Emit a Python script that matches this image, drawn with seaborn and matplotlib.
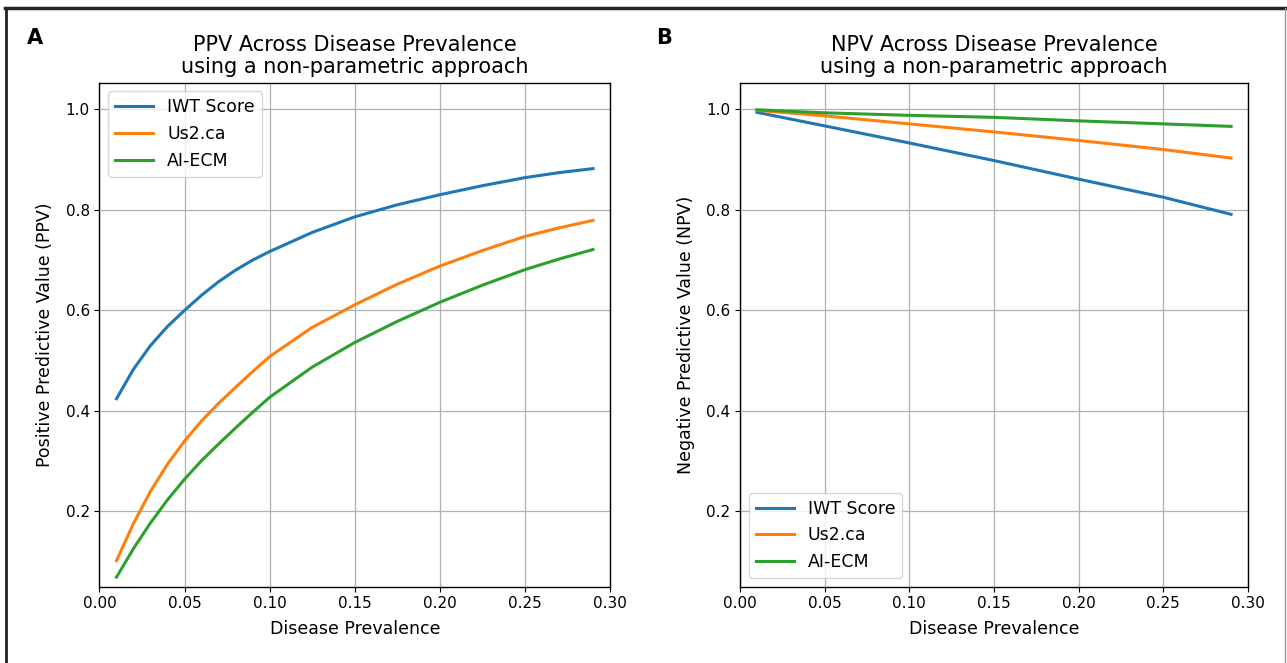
import matplotlib as mpl
import matplotlib.pyplot as plt
import numpy as np
import pandas as pd
import seaborn as sns
from matplotlib.lines import Line2D

# values
models = ['IWT Score', 'Us2.ca', 'AI-ECM']

ppv_prevalence = [0.01, 0.02, 0.03, 0.04, 0.05, 0.06, 0.07, 0.08, 0.09, 0.10,
                  0.125, 0.15, 0.175, 0.20, 0.225, 0.25, 0.27, 0.29]
ppv_iwt = [0.424, 0.483, 0.530, 0.568, 0.600, 0.630, 0.657, 0.680, 0.700, 0.717,
           0.755, 0.786, 0.810, 0.830, 0.848, 0.864, 0.874, 0.882]
ppv_us2 = [0.102, 0.176, 0.240, 0.294, 0.340, 0.380, 0.415, 0.447, 0.478, 0.508,
           0.566, 0.611, 0.652, 0.688, 0.719, 0.747, 0.764, 0.779]
ppv_aiecm = [0.069, 0.126, 0.177, 0.223, 0.264, 0.301, 0.334, 0.366, 0.397, 0.427,
             0.487, 0.536, 0.578, 0.616, 0.650, 0.681, 0.702, 0.721]

npv_prevalence = [0.01, 0.05, 0.10, 0.15, 0.20, 0.25, 0.29]
npv_iwt = [0.994, 0.967, 0.933, 0.898, 0.861, 0.825, 0.791]
npv_us2 = [0.998, 0.987, 0.971, 0.955, 0.938, 0.920, 0.903]
npv_aiecm = [0.999, 0.993, 0.988, 0.984, 0.977, 0.971, 0.966]

mpl.rcParams['font.family'] = 'DejaVu Sans'
mpl.rcParams['font.size'] = 10.5


def long_form(prev, series):
    rows = []
    for name, vals in zip(models, series):
        for p, v in zip(prev, vals):
            rows.append({'prevalence': p, 'value': v, 'model': name})
    return pd.DataFrame(rows)


ppv_df = long_form(ppv_prevalence, [ppv_iwt, ppv_us2, ppv_aiecm])
npv_df = long_form(npv_prevalence, [npv_iwt, npv_us2, npv_aiecm])

colors = sns.color_palette('tab10', 3)

fig = plt.figure(figsize=(12.87, 6.63), dpi=100)
ax1 = fig.add_axes([0.0773, 0.1151, 0.3967, 0.7602])
ax2 = fig.add_axes([0.5750, 0.1151, 0.3947, 0.7602])

panels = [
    (ax1, ppv_df, 'PPV Across Disease Prevalence\nusing a non-parametric approach',
     'Positive Predictive Value (PPV)', 'upper left', 'A'),
    (ax2, npv_df, 'NPV Across Disease Prevalence\nusing a non-parametric approach',
     'Negative Predictive Value (NPV)', 'lower left', 'B'),
]

for ax, df, title, ylabel, loc, letter in panels:
    sns.lineplot(data=df, x='prevalence', y='value', hue='model', hue_order=models,
                 palette=colors, estimator=None, linewidth=2.2, ax=ax)
    ax.set_xlim(0, 0.30)
    ax.set_ylim(0.05, 1.053)
    ax.set_xticks(np.arange(0, 0.31, 0.05))
    ax.set_yticks([0.2, 0.4, 0.6, 0.8, 1.0])
    ax.set_xticklabels([f'{t:.2f}' for t in np.arange(0, 0.31, 0.05)])
    ax.set_yticklabels(['0.2', '0.4', '0.6', '0.8', '1.0'])
    ax.tick_params(labelsize=11)
    ax.grid(True, color='#b0b0b0', linewidth=0.9)
    ax.set_axisbelow(True)
    ax.set_title(title, fontsize=15, linespacing=1.1, pad=7)
    ax.set_xlabel('Disease Prevalence', fontsize=12.5, labelpad=6)
    ax.set_ylabel(ylabel, fontsize=12.5, labelpad=8)
    ax.legend(loc=loc, fontsize=12.5, handlelength=2.2)
    for s in ax.spines.values():
        s.set_linewidth(1.0)
        s.set_color('black')

fig.text(35 / 1287, 1 - 38 / 663, 'A', fontsize=15, weight='bold', ha='center', va='center')
fig.text(664 / 1287, 1 - 38 / 663, 'B', fontsize=15, weight='bold', ha='center', va='center')

# frame around the figure (cut at the bottom in the reference)
fig.add_artist(Line2D([5 / 1287, 1285 / 1287], [1 - 8 / 663, 1 - 8 / 663],
                      transform=fig.transFigure, color='#222222', linewidth=2.5))
fig.add_artist(Line2D([6 / 1287, 6 / 1287], [0, 1 - 8 / 663],
                      transform=fig.transFigure, color='#222222', linewidth=2))
fig.add_artist(Line2D([1285 / 1287, 1285 / 1287], [0, 1 - 8 / 663],
                      transform=fig.transFigure, color='#999999', linewidth=1))

plt.savefig('out.png', dpi=100)
plt.close()
